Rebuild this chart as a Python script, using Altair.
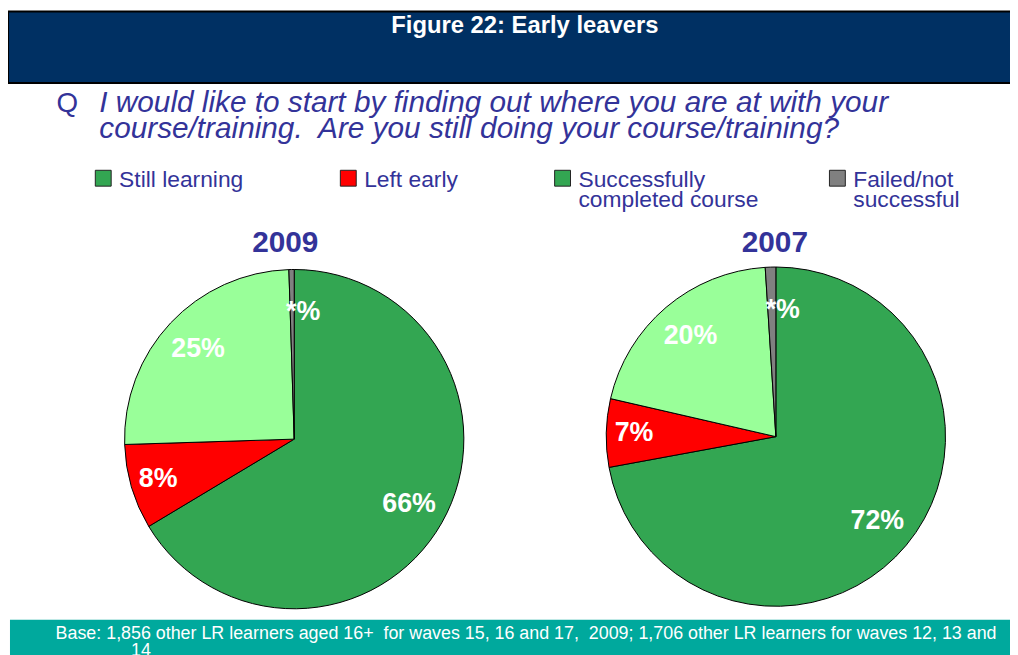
import altair as alt
import pandas as pd

# ---- data ----
years = ["2009", "2009", "2009", "2009", "2007", "2007", "2007", "2007"]
categories = ["Successfully completed course", "Left early", "Still learning", "Failed/not successful"] * 2
values = [66.4, 8.1, 25.0, 0.5, 72.1, 6.5, 20.4, 1.0]
labels = ["66%", "8%", "25%", "*%", "72%", "7%", "20%", "*%"]
order = [1, 2, 3, 4, 1, 2, 3, 4]

pie_domain = ["Successfully completed course", "Left early", "Still learning", "Failed/not successful"]
pie_range = ["#33A652", "#FF0000", "#99FF99", "#808080"]

legend_labels = ["Still learning", "Left early", "Successfully\ncompleted course", "Failed/not\nsuccessful"]
legend_colors = ["#33A652", "#FF0000", "#33A652", "#808080"]

title_text = "Figure 22: Early leavers"
question_lines = [
    "I would like to start by finding out where you are at with your",
    "course/training.\u00a0 Are you still doing your course/training?",
]
footer_lines = [
    "Base: 1,856 other LR learners aged 16+\u00a0 for waves 15, 16 and 17,\u00a0 2009; 1,706 other LR learners for waves 12, 13 and",
    "14",
]

df = pd.DataFrame({"year": years, "category": categories, "value": values,
                   "label": labels, "order": order})
dummy = pd.DataFrame({"a": [0]})

FONT = "Liberation Sans"
TXT = "#333399"

layers = []

# banner
layers.append(alt.Chart(dummy).mark_rect(fill="#003063", stroke="black", strokeWidth=2).encode(
    x=alt.value(0), x2=alt.value(1012), y=alt.value(1), y2=alt.value(73)))
layers.append(alt.Chart(dummy).mark_text(text=title_text, font=FONT, fontSize=24, fontWeight="bold",
                                         color="white", align="center", baseline="middle").encode(
    x=alt.value(521), y=alt.value(16)))

# question
layers.append(alt.Chart(dummy).mark_text(text="Q", font=FONT, fontSize=28, color=TXT,
                                         align="left", baseline="alphabetic").encode(
    x=alt.value(49), y=alt.value(102)))
layers.append(alt.Chart(dummy).mark_text(text=question_lines, font=FONT, fontSize=30, fontStyle="italic",
                                         color=TXT, align="left", baseline="alphabetic", lineHeight=26).encode(
    x=alt.value(92), y=alt.value(102)))

# legend
sq_x = [88, 335, 551, 828]
tx_x = [112, 359, 575, 852]
for i, (lab, col) in enumerate(zip(legend_labels, legend_colors)):
    layers.append(alt.Chart(dummy).mark_rect(fill=col, stroke="#222222", strokeWidth=1).encode(
        x=alt.value(sq_x[i]), x2=alt.value(sq_x[i] + 16), y=alt.value(161), y2=alt.value(177)))
    layers.append(alt.Chart(dummy).mark_text(text=lab.split("\n"), font=FONT, fontSize=23, color=TXT,
                                             align="left", baseline="alphabetic", lineHeight=20).encode(
        x=alt.value(tx_x[i]), y=alt.value(178)))

# pies
centers = {"2009": (288.5, 432), "2007": (774, 429.5)}
title_x = {"2009": 279.5, "2007": 773}
color_scale = alt.Scale(domain=pie_domain, range=pie_range)
for yr, (cx, cy) in centers.items():
    base = alt.Chart(df).transform_filter(alt.datum.year == yr).encode(
        theta=alt.Theta("value:Q", stack="normalize"),
        order=alt.Order("order:Q"),
        x=alt.value(cx), y=alt.value(cy),
    )
    layers.append(base.mark_arc(outerRadius=171, stroke="black", strokeWidth=1).encode(
        color=alt.Color("category:N", scale=color_scale, legend=None)))
    lab_style = dict(font=FONT, fontSize=27, fontWeight="bold", color="white",
                     baseline="middle")
    layers.append(base.mark_text(radius=133, align="center", **lab_style).encode(
        text="label:N",
        opacity=alt.condition((alt.datum.order == 1) | (alt.datum.order == 3), alt.value(1), alt.value(0))))
    layers.append(base.mark_text(radius=143, align="center", **lab_style).encode(
        text="label:N",
        opacity=alt.condition(alt.datum.order == 2, alt.value(1), alt.value(0))))
    layers.append(base.mark_text(radius=128, align="center", dx=11, **lab_style).encode(
        text="label:N",
        opacity=alt.condition(alt.datum.order == 4, alt.value(1), alt.value(0))))
    layers.append(alt.Chart(dummy).mark_text(text=yr, font=FONT, fontSize=30, fontWeight="bold",
                                             color=TXT, align="center", baseline="middle").encode(
        x=alt.value(title_x[yr]), y=alt.value(234)))

# footer
layers.append(alt.Chart(dummy).mark_rect(fill="#00A99D").encode(
    x=alt.value(2), x2=alt.value(1012), y=alt.value(614), y2=alt.value(660)))
layers.append(alt.Chart(dummy).mark_text(text=footer_lines[0], font=FONT, fontSize=18, color="white",
                                         align="left", baseline="alphabetic").encode(
    x=alt.value(48), y=alt.value(633)))
layers.append(alt.Chart(dummy).mark_text(text=footer_lines[1], font=FONT, fontSize=18, color="white",
                                         align="left", baseline="alphabetic").encode(
    x=alt.value(124), y=alt.value(651)))

chart = alt.layer(*layers).properties(
    width=1010, height=647, padding=0, autosize=alt.AutoSizeParams(type="none"),
    background="white",
).configure_view(stroke=None)

chart.save("out.html", embed_options={"renderer": "svg", "actions": False})
